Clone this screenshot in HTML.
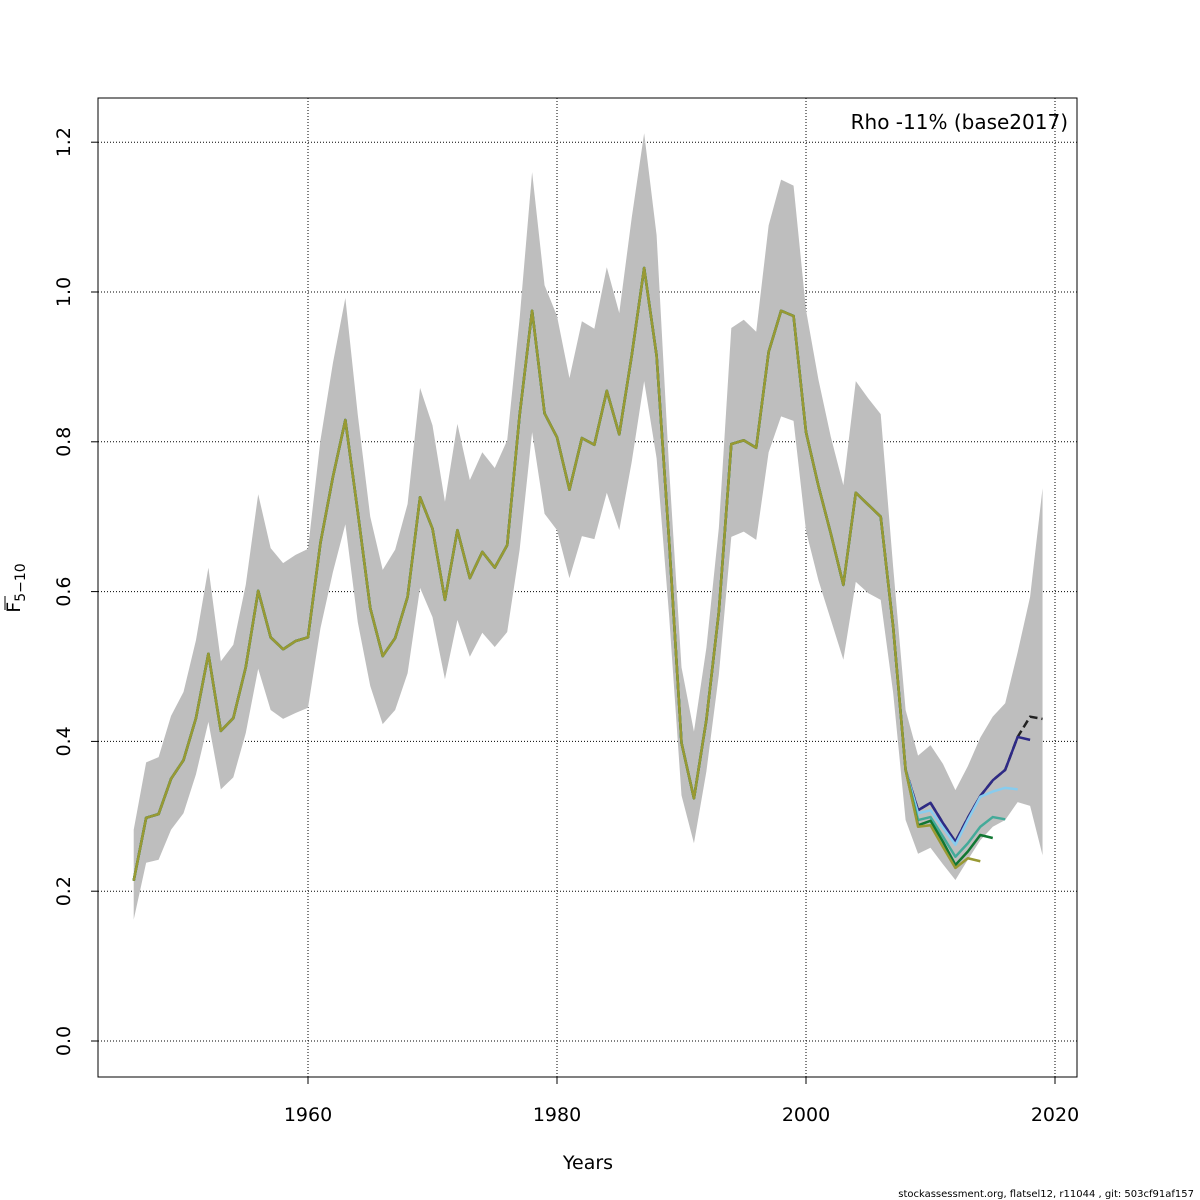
<!DOCTYPE html>
<html><head><meta charset="utf-8"><style>
html,body{margin:0;padding:0;background:#fff;}
svg{display:block;font-family:"DejaVu Sans","Liberation Sans",sans-serif;}
</style></head><body>
<svg id="chart" width="1200" height="1200">
<g id="grid"></g>
<g id="band"></g>
<g id="lines"></g>
<rect x="98" y="98" width="979" height="979" fill="none" stroke="#000" stroke-width="1"/>
<g id="axes"></g>
<text x="1068" y="129" font-size="20" text-anchor="end">Rho -11% (base2017)</text>
<text x="588" y="1169" font-size="19" text-anchor="middle">Years</text>
<g transform="translate(20,588) rotate(-90)"><text x="0" y="0" font-size="19" text-anchor="middle">F<tspan font-size="14" dy="5">5−10</tspan></text><line x1="-22" y1="-15" x2="-8" y2="-15" stroke="#000" stroke-width="1"/></g>
<text x="1194" y="1197" font-size="10" text-anchor="end">stockassessment.org, flatsel12, r11044 , git: 503cf91af157</text>
</svg>
<script>
const years=[];for(let y=1946;y<=2019;y++)years.push(y);
const baseF=[0.214,0.298,0.303,0.35,0.375,0.431,0.517,0.414,0.431,0.499,0.601,0.539,0.523,0.534,0.539,0.665,0.753,0.829,0.706,0.578,0.514,0.538,0.593,0.726,0.684,0.589,0.682,0.618,0.653,0.632,0.662,0.836,0.975,0.838,0.806,0.736,0.805,0.796,0.868,0.810,0.915,1.032,0.915,0.669,0.398,0.324,0.429,0.573,0.797,0.802,0.792,0.92,0.975,0.968,0.813,0.741,0.677,0.609,0.732,0.716,0.700,0.553,0.362,0.308,0.318,0.291,0.266,0.298,0.327,0.348,0.362,0.406,0.433,0.430];
const upperF=[0.282,0.372,0.379,0.434,0.466,0.535,0.632,0.507,0.529,0.609,0.730,0.658,0.638,0.649,0.657,0.802,0.905,0.992,0.836,0.700,0.629,0.656,0.717,0.872,0.822,0.720,0.824,0.749,0.786,0.765,0.802,0.965,1.160,1.009,0.968,0.885,0.961,0.951,1.033,0.972,1.099,1.212,1.076,0.766,0.499,0.413,0.525,0.685,0.952,0.963,0.947,1.089,1.150,1.142,0.976,0.883,0.806,0.742,0.881,0.858,0.837,0.633,0.442,0.381,0.395,0.370,0.335,0.367,0.405,0.433,0.451,0.519,0.593,0.738];
const lowerF=[0.162,0.238,0.242,0.282,0.304,0.356,0.426,0.336,0.352,0.411,0.497,0.442,0.430,0.438,0.445,0.551,0.626,0.690,0.559,0.474,0.423,0.442,0.491,0.605,0.566,0.483,0.562,0.513,0.545,0.526,0.546,0.656,0.813,0.704,0.682,0.618,0.674,0.670,0.732,0.682,0.773,0.881,0.778,0.569,0.328,0.264,0.360,0.489,0.673,0.680,0.669,0.786,0.834,0.828,0.681,0.615,0.562,0.509,0.613,0.598,0.589,0.465,0.295,0.250,0.258,0.236,0.215,0.242,0.268,0.286,0.295,0.319,0.314,0.248];
const peel1Tail=[0.308,0.318,0.291,0.266,0.298,0.327,0.348,0.362,0.406,0.402];
const peel2Tail=[0.304,0.308,0.285,0.262,0.295,0.326,0.333,0.338,0.336];
const peel3Tail=[0.295,0.299,0.273,0.246,0.264,0.286,0.299,0.296];
const peel4Tail=[0.288,0.294,0.266,0.235,0.253,0.275,0.271];
const peel5Tail=[0.286,0.288,0.259,0.231,0.244,0.240];
const xTicks=[1960,1980,2000,2020];
const yTicks=[0,0.2,0.4,0.6,0.8,1.0,1.2];
const yTickLabels=["0.0","0.2","0.4","0.6","0.8","1.0","1.2"];

const X=y=>308+(y-1960)*12.45;
const Y=v=>1041-v*749;
const NS="http://www.w3.org/2000/svg";
function mk(tag,attrs,parent){const e=document.createElementNS(NS,tag);for(const k in attrs)e.setAttribute(k,attrs[k]);parent.appendChild(e);return e;}
const grid=document.getElementById('grid'),band=document.getElementById('band'),lines=document.getElementById('lines'),axes=document.getElementById('axes');

xTicks.forEach(t=>{
  const l=mk('line',{x1:X(t),x2:X(t),y1:98,y2:1077,stroke:'#000','stroke-dasharray':'1,2','stroke-width':1},grid);
  
  
  const tk=mk('line',{x1:X(t),x2:X(t),y1:1077,y2:1084,stroke:'#000'},axes);
  
  
  const tx=mk('text',{x:X(t),y:1121,'font-size':19,'text-anchor':'middle'},axes);
  tx.textContent=t;
  
  
});
yTicks.forEach((t,i)=>{
  const l=mk('line',{x1:98,x2:1077,y1:Y(t),y2:Y(t),stroke:'#000','stroke-dasharray':'1,2','stroke-width':1},grid);
  
  
  const tk=mk('line',{x1:91,x2:98,y1:Y(t),y2:Y(t),stroke:'#000'},axes);
  
  
  const tx=mk('text',{x:0,y:0,'font-size':19,'text-anchor':'middle',transform:`translate(70,${Y(t)}) rotate(-90)`},axes);
  tx.textContent=yTickLabels[i];
  
  
});
let pts=years.map((y,i)=>X(y)+','+Y(upperF[i]));
for(let i=years.length-1;i>=0;i--)pts.push(X(years[i])+','+Y(lowerF[i]));
const poly=mk('polygon',{points:pts.join(' '),fill:'#bebebe',stroke:'none'},band);



function drawLine(vals,startYear,color,dash,name){
  const p=vals.map((v,i)=>X(startYear+i)+','+Y(v)).join(' ');
  const a={points:p,fill:'none',stroke:color,'stroke-width':2.5,'stroke-linejoin':'round'};
  if(dash)a['stroke-dasharray']=dash;
  const e=mk('polyline',a,lines);
  
  
}
const hist=baseF.slice(0,63);
drawLine(baseF,1946,'#222','8,4','base-series');
const peels=[[peel1Tail,'#2e2a86'],[peel2Tail,'#88ccee'],[peel3Tail,'#44aa99'],[peel4Tail,'#117733'],[peel5Tail,'#999933']];
peels.forEach((p,k)=>{
  drawLine(hist.concat(p[0]),1946,p[1],null,'retro-peel-'+(k+1));
});
</script>
</body></html>
